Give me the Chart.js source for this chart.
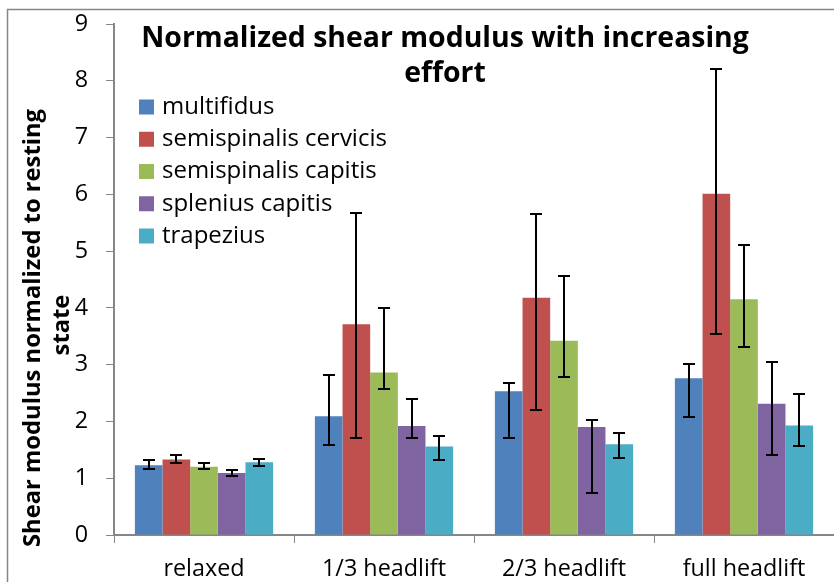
<!DOCTYPE html>
<html>
<head>
<meta charset="utf-8">
<script src="https://cdn.jsdelivr.net/npm/chart.js@4.4.1/dist/chart.umd.min.js"></script>
<style>
  html, body { margin: 0; padding: 0; background: #fff; }
</style>
</head>
<body>
<canvas id="chart" width="834" height="582"></canvas>
<script>
// Данные
const categories = ['relaxed', '1/3 headlift', '2/3 headlift', 'full headlift'];
const muscles = ['multifidus', 'semispinalis cervicis', 'semispinalis capitis', 'splenius capitis', 'trapezius'];
const colors = ['#4F81BD', '#C0504D', '#9BBB59', '#8064A2', '#4BACC6'];
const yTicks = [0, 1, 2, 3, 4, 5, 6, 7, 8, 9];

const multifidus = [1.23, 2.09, 2.53, 2.76];
const multifidusLow = [1.16, 1.58, 1.70, 2.08];
const multifidusHigh = [1.32, 2.81, 2.67, 3.01];

const cervicis = [1.33, 3.71, 4.18, 6.01];
const cervicisLow = [1.27, 1.70, 2.21, 3.54];
const cervicisHigh = [1.41, 5.67, 5.66, 8.21];

const capitis = [1.20, 2.86, 3.42, 4.15];
const capitisLow = [1.16, 2.58, 2.78, 3.31];
const capitisHigh = [1.27, 3.99, 4.56, 5.11];

const splenius = [1.09, 1.92, 1.90, 2.31];
const spleniusLow = [1.04, 1.70, 0.74, 1.41];
const spleniusHigh = [1.14, 2.39, 2.03, 3.04];

const trapezius = [1.28, 1.56, 1.60, 1.93];
const trapeziusLow = [1.21, 1.32, 1.36, 1.56];
const trapeziusHigh = [1.34, 1.74, 1.80, 2.48];

const values = [multifidus, cervicis, capitis, splenius, trapezius];
const lows = [multifidusLow, cervicisLow, capitisLow, spleniusLow, trapeziusLow];
const highs = [multifidusHigh, cervicisHigh, capitisHigh, spleniusHigh, trapeziusHigh];

const FONT = '"Open Sans", sans-serif';
const AXIS = '#868686';

// подбор размера шрифта под ширину текста на картинке
const measure = document.createElement('canvas').getContext('2d');
function fitSize(text, weight, width) {
  measure.font = weight + ' 100px ' + FONT;
  return 100 * width / measure.measureText(text).width;
}
const titleSize = fitSize('Normalized shear modulus with increasing', 'bold', 608);
const legendSize = fitSize('semispinalis cervicis', 'normal', 225);
const yTitleSize = fitSize('Shear modulus normalized to resting', 'bold', 438);
const tickSize = fitSize('1/3 headlift', 'normal', 124);

// Рамка, заголовок, легенда, подпись оси, планки погрешностей
const decorations = {
  id: 'decorations',
  beforeDraw(chart) {
    const ctx = chart.ctx;
    ctx.save();
    ctx.strokeStyle = AXIS;
    ctx.lineWidth = 1.5;
    ctx.strokeRect(7.5, 9.5, 900, 900);
    ctx.restore();
  },
  afterDatasetsDraw(chart) {
    const ctx = chart.ctx;
    const y = chart.scales.y;
    ctx.save();
    ctx.strokeStyle = '#000';
    ctx.lineWidth = 2;
    chart.data.datasets.forEach((ds, di) => {
      chart.getDatasetMeta(di).data.forEach((bar, i) => {
        const top = Math.round(y.getPixelForValue(ds.errHigh[i]));
        const bot = Math.round(y.getPixelForValue(ds.errLow[i]));
        const x = Math.round(bar.x);
        ctx.beginPath();
        ctx.moveTo(x, top); ctx.lineTo(x, bot);
        ctx.moveTo(x - 6, top); ctx.lineTo(x + 6, top);
        ctx.moveTo(x - 6, bot); ctx.lineTo(x + 6, bot);
        ctx.stroke();
      });
    });
    ctx.restore();
  },
  afterDraw(chart) {
    const ctx = chart.ctx;
    ctx.save();
    ctx.fillStyle = '#000';

    // заголовок
    ctx.font = 'bold ' + titleSize + 'px ' + FONT;
    ctx.textAlign = 'center';
    ctx.textBaseline = 'alphabetic';
    ctx.fillText('Normalized shear modulus with increasing', 445, 47);
    ctx.fillText('effort', 445, 82);

    // легенда
    ctx.font = legendSize + 'px ' + FONT;
    ctx.textAlign = 'left';
    ctx.textBaseline = 'middle';
    chart.data.datasets.forEach((ds, i) => {
      const cy = 107 + i * 32.25;
      ctx.fillStyle = ds.backgroundColor;
      ctx.fillRect(139, cy - 7.5, 15, 15);
      ctx.fillStyle = '#000';
      ctx.fillText(ds.label, 162, cy);
    });

    // подпись оси Y
    ctx.font = 'bold ' + yTitleSize + 'px ' + FONT;
    ctx.textAlign = 'center';
    ctx.textBaseline = 'alphabetic';
    ctx.translate(0, 328);
    ctx.rotate(-Math.PI / 2);
    ctx.fillText('Shear modulus normalized to resting', 0, 40);
    ctx.fillText('state', 3, 69);
    ctx.restore();
  }
};

new Chart(document.getElementById('chart'), {
  type: 'bar',
  data: {
    labels: categories,
    datasets: muscles.map((name, i) => ({
      label: name,
      data: values[i],
      errLow: lows[i],
      errHigh: highs[i],
      backgroundColor: colors[i],
      borderWidth: 0,
      categoryPercentage: 0.768,
      barPercentage: 1
    }))
  },
  options: {
    responsive: false,
    animation: false,
    layout: { padding: { top: 24, right: -4, left: 0, bottom: 0 } },
    plugins: {
      legend: { display: false },
      title: { display: false },
      tooltip: { enabled: false }
    },
    scales: {
      x: {
        grid: { display: true, drawOnChartArea: false, color: AXIS, tickLength: 8, offset: true },
        border: { color: AXIS, width: 2 },
        ticks: { color: '#000', font: { family: FONT, size: tickSize }, padding: 12 },
        afterFit(scale) {
          scale.height = 47;
          scale.paddingLeft = 0;
          scale.paddingRight = 0;
        }
      },
      y: {
        min: 0,
        max: 9,
        afterBuildTicks(scale) { scale.ticks = yTicks.map(v => ({ value: v })); },
        grid: { display: true, drawOnChartArea: false, color: AXIS, tickLength: 8 },
        border: { color: AXIS, width: 2 },
        ticks: { color: '#000', font: { family: FONT, size: tickSize }, padding: 18 },
        afterFit(scale) {
          scale.width = 114;
          scale.paddingTop = 0;
          scale.paddingBottom = 0;
        }
      }
    }
  },
  plugins: [decorations]
});
</script>
</body>
</html>
